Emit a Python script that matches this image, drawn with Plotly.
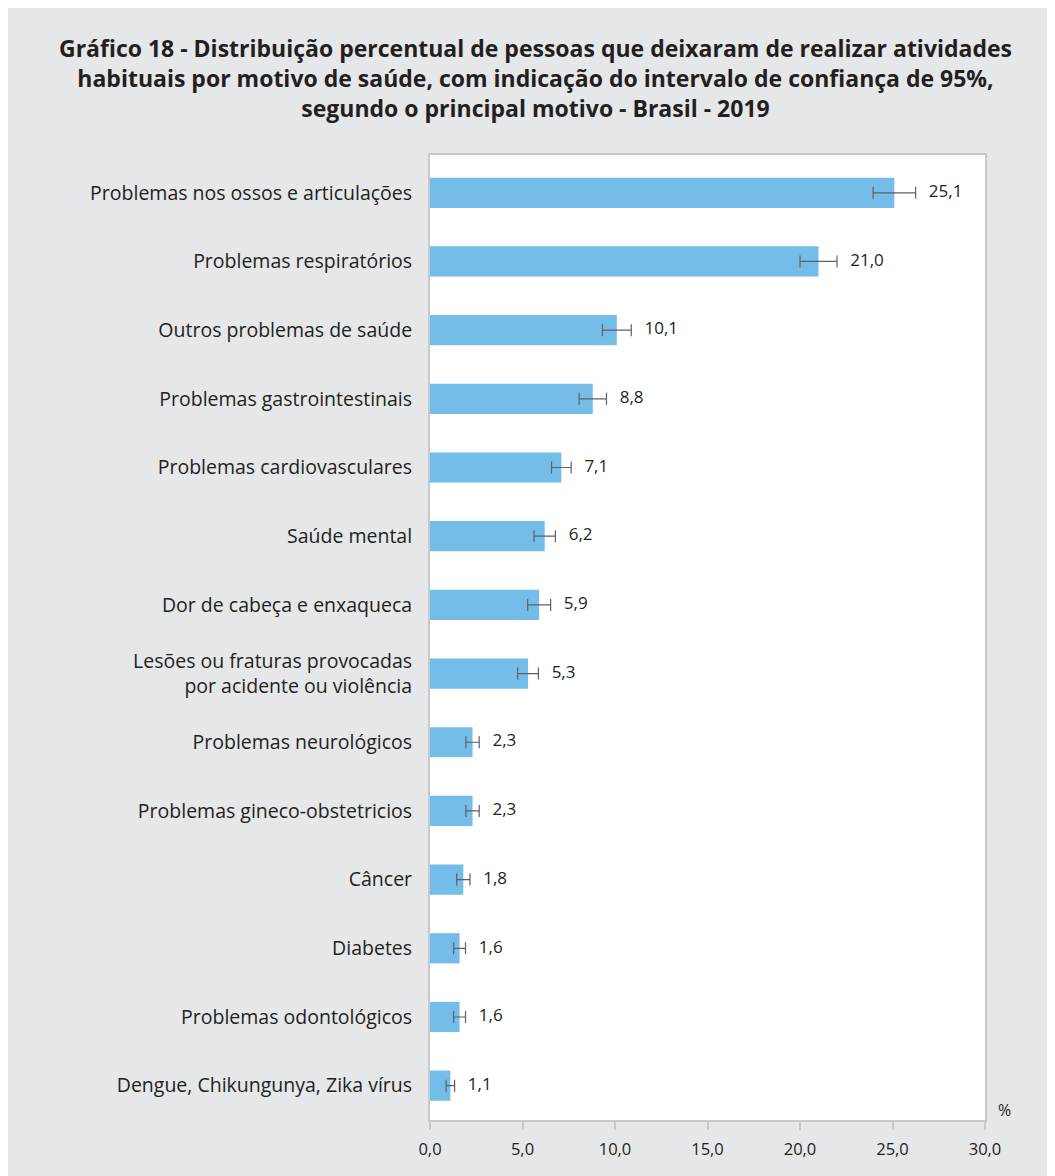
import plotly.graph_objs as go

# Categorias (de cima para baixo) e valores (%)
categorias = [
    'Problemas nos ossos e articulações',
    'Problemas respiratórios',
    'Outros problemas de saúde',
    'Problemas gastrointestinais',
    'Problemas cardiovasculares',
    'Saúde mental',
    'Dor de cabeça e enxaqueca',
    'Lesões ou fraturas provocadas<br>por acidente ou violência',
    'Problemas neurológicos',
    'Problemas gineco-obstetricios',
    'Câncer',
    'Diabetes',
    'Problemas odontológicos',
    'Dengue, Chikungunya, Zika vírus',
]
valores = [25.1, 21.0, 10.1, 8.8, 7.1, 6.2, 5.9, 5.3, 2.3, 2.3, 1.8, 1.6, 1.6, 1.1]
# Intervalo de confiança de 95% (semi-amplitude)
erro = [1.15, 1.0, 0.78, 0.74, 0.53, 0.58, 0.62, 0.56, 0.36, 0.36, 0.36, 0.32, 0.32, 0.23]
rotulos = ['25,1', '21,0', '10,1', '8,8', '7,1', '6,2', '5,9', '5,3', '2,3', '2,3', '1,8', '1,6', '1,6', '1,1']
ticks_x = [0, 5, 10, 15, 20, 25, 30]

cor_texto = '#231f20'
fonte = 'Open Sans, Arial, sans-serif'

fig = go.Figure()
fig.add_trace(go.Bar(
    y=categorias, x=valores, orientation='h',
    marker=dict(color='#74bde8', line=dict(width=0)),
    error_x=dict(type='data', array=erro, visible=True, color='#5f6062',
                 thickness=1.2, width=6),
    showlegend=False, hoverinfo='skip'))

# rótulos de valor à direita da barra de erro
fig.add_trace(go.Scatter(
    y=categorias, x=[v + e for v, e in zip(valores, erro)],
    mode='text', text=['   ' + r for r in rotulos], textposition='middle right',
    textfont=dict(size=17, color=cor_texto, family=fonte),
    showlegend=False, hoverinfo='skip', cliponaxis=False))

fig.update_layout(
    width=1055, height=1176,
    margin=dict(l=422, r=78, t=147, b=64),
    paper_bgcolor='#e6e7e8',
    plot_bgcolor='white',
    bargap=0.56,
    separators=',.',
    font=dict(family=fonte, color=cor_texto),
    title=dict(
        text='<b>Gráfico 18 - Distribuição percentual de pessoas que deixaram de realizar atividades<br>'
             'habituais por motivo de saúde, com indicação do intervalo de confiança de 95%,<br>'
             'segundo o principal motivo - Brasil - 2019</b>',
        x=0.5, xanchor='center', y=0.958, yanchor='top',
        font=dict(size=23, color=cor_texto, family=fonte)),
    xaxis=dict(range=[0, 30], tickvals=ticks_x, tickformat='.1f',
               showgrid=False, zeroline=False,
               showline=True, mirror=True, linecolor='#c8c9cb', linewidth=2,
               ticks='outside', ticklen=8, tickcolor='#c8c9cb', tickwidth=2,
               ticklabelstandoff=5,
               tickfont=dict(size=16.5, color=cor_texto)),
    yaxis=dict(range=[13.5, -0.55], showgrid=False, zeroline=False,
               showline=True, mirror=True, linecolor='#c8c9cb', linewidth=2,
               ticks='', ticklabelstandoff=12,
               tickfont=dict(size=19.5, color=cor_texto)),
)

fig.add_annotation(text='%', xref='paper', yref='paper', x=1.02, y=-0.003,
                   xanchor='left', yanchor='bottom', showarrow=False,
                   font=dict(size=16, color=cor_texto, family=fonte))

fig.write_html('out.html')
